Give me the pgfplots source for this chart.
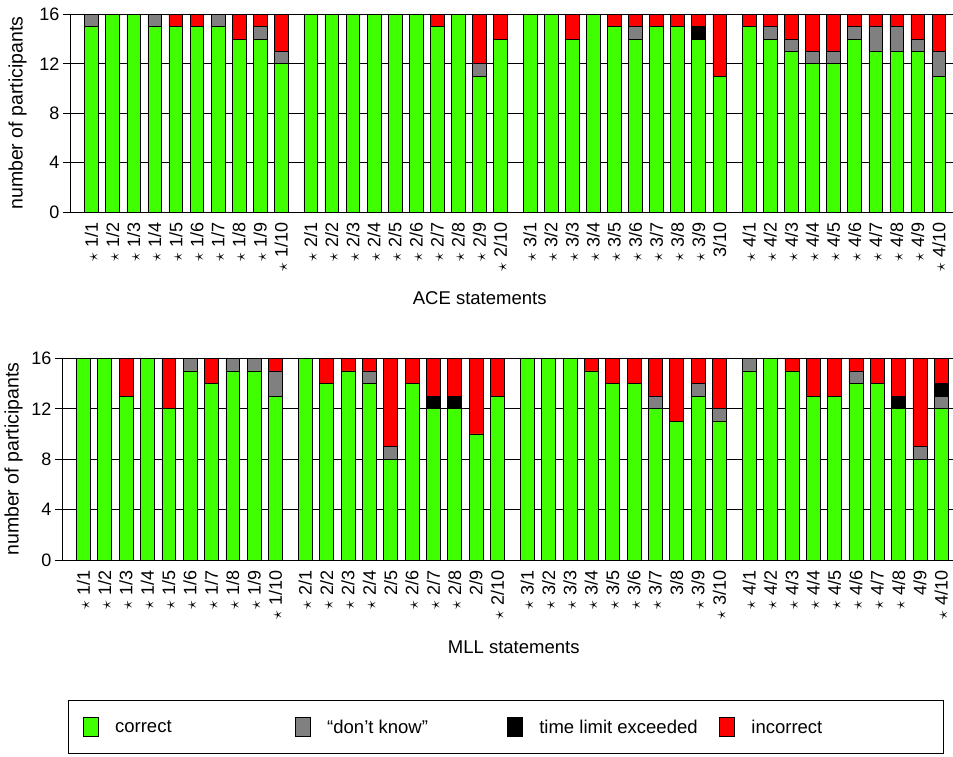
\documentclass[border=0pt]{standalone}
\usepackage{fontspec}
\setmainfont{Liberation Sans}
\usepackage{pgfplots}
\usepackage{pgfplotstable}
\pgfplotsset{compat=1.18}

\definecolor{cgreen}{RGB}{64,255,0}
\definecolor{cgray}{RGB}{128,128,128}
\definecolor{cred}{RGB}{255,0,0}
\newcommand\fs{\fontsize{18}{21}\selectfont}
\newcommand\fl{\fontsize{18.5}{22}\selectfont}
\newcommand\fy{\fontsize{19.5}{23}\selectfont}

\pgfplotstableread{
x c d t i
0 15 1 0 0
1 16 0 0 0
2 16 0 0 0
3 15 1 0 0
4 15 0 0 1
5 15 0 0 1
6 15 1 0 0
7 14 0 0 2
8 14 1 0 1
9 12 1 0 3
10.4 16 0 0 0
11.4 16 0 0 0
12.4 16 0 0 0
13.4 16 0 0 0
14.4 16 0 0 0
15.4 16 0 0 0
16.4 15 0 0 1
17.4 16 0 0 0
18.4 11 1 0 4
19.4 14 0 0 2
20.8 16 0 0 0
21.8 16 0 0 0
22.8 14 0 0 2
23.8 16 0 0 0
24.8 15 0 0 1
25.8 14 1 0 1
26.8 15 0 0 1
27.8 15 0 0 1
28.8 14 0 1 1
29.8 11 0 0 5
31.2 15 0 0 1
32.2 14 1 0 1
33.2 13 1 0 2
34.2 12 1 0 3
35.2 12 1 0 3
36.2 14 1 0 1
37.2 13 2 0 1
38.2 13 2 0 1
39.2 13 1 0 2
40.2 11 2 0 3
}\ace

\pgfplotstableread{
x c d t i
0 16 0 0 0
1 16 0 0 0
2 13 0 0 3
3 16 0 0 0
4 12 0 0 4
5 15 1 0 0
6 14 0 0 2
7 15 1 0 0
8 15 1 0 0
9 13 2 0 1
10.4 16 0 0 0
11.4 14 0 0 2
12.4 15 0 0 1
13.4 14 1 0 1
14.4 8 1 0 7
15.4 14 0 0 2
16.4 12 0 1 3
17.4 12 0 1 3
18.4 10 0 0 6
19.4 13 0 0 3
20.8 16 0 0 0
21.8 16 0 0 0
22.8 16 0 0 0
23.8 15 0 0 1
24.8 14 0 0 2
25.8 14 0 0 2
26.8 12 1 0 3
27.8 11 0 0 5
28.8 13 1 0 2
29.8 11 1 0 4
31.2 15 1 0 0
32.2 16 0 0 0
33.2 15 0 0 1
34.2 13 0 0 3
35.2 13 0 0 3
36.2 14 1 0 1
37.2 14 0 0 2
38.2 12 0 1 3
39.2 8 1 0 7
40.2 12 1 1 2
}\mll

\pgfplotsset{
  mystyle/.style={
    scale only axis,
    ybar stacked,
    bar width=0.65,
    ymin=0, ymax=16,
    ytick={0,8,16},
    extra y ticks={4,12},
    extra y tick style={grid style={gray!75, line width=0.8pt}},
    ymajorgrids,
    major grid style={black, line width=0.6pt},
    axis x line*=bottom,
    axis y line*=left,
    axis line style={line width=0.8pt},
    tick align=outside,
    major tick length=7pt,
    ytick style={line width=0.8pt, black},
    xtick={0,1,2,3,4,5,6,7,8,9,10.4,11.4,12.4,13.4,14.4,15.4,16.4,17.4,18.4,19.4,20.8,21.8,22.8,23.8,24.8,25.8,26.8,27.8,28.8,29.8,31.2,32.2,33.2,34.2,35.2,36.2,37.2,38.2,39.2,40.2},
    xtick style={draw=none},
    x tick label style={rotate=90, anchor=east},
    tick label style={font=\fs},
    xlabel style={font=\fl},
    ylabel style={font=\fy},
    /pgf/number format/assume math mode=true,
    ylabel={number of participants},
    every axis plot/.append style={draw=black, line width=0.5pt},
  }
}

\begin{document}
\begin{tikzpicture}
\useasboundingbox (0,0) rectangle (953pt,-756pt);
\begin{axis}[mystyle,
  at={(70pt,-212pt)}, anchor=south west,
  width=883pt, height=197.7pt,
  xmin=-1.02, xmax=40.87,
  ylabel shift=-8pt,
  xticklabels={$\star$ 1/1,$\star$ 1/2,$\star$ 1/3,$\star$ 1/4,$\star$ 1/5,$\star$ 1/6,$\star$ 1/7,$\star$ 1/8,$\star$ 1/9,$\star$ 1/10,
               $\star$ 2/1,$\star$ 2/2,$\star$ 2/3,$\star$ 2/4,$\star$ 2/5,$\star$ 2/6,$\star$ 2/7,$\star$ 2/8,$\star$ 2/9,$\star$ 2/10,
               $\star$ 3/1,$\star$ 3/2,$\star$ 3/3,$\star$ 3/4,$\star$ 3/5,$\star$ 3/6,$\star$ 3/7,$\star$ 3/8,$\star$ 3/9,3/10,
               $\star$ 4/1,$\star$ 4/2,$\star$ 4/3,$\star$ 4/4,$\star$ 4/5,$\star$ 4/6,$\star$ 4/7,$\star$ 4/8,$\star$ 4/9,$\star$ 4/10},
  xlabel={ACE statements},
  xlabel style={at={(axis description cs:0.464,-0.385)}, anchor=north},
]
\addplot[fill=cgreen] table[x=x,y=c]{\ace};
\addplot[fill=cgray] table[x=x,y=d]{\ace};
\addplot[fill=black] table[x=x,y=t]{\ace};
\addplot[fill=cred] table[x=x,y=i]{\ace};
\end{axis}
\begin{axis}[mystyle,
  at={(62pt,-560pt)}, anchor=south west,
  width=891pt, height=201.7pt,
  xmin=-1.0, xmax=40.75,
  ylabel shift=-12pt,
  xticklabels={$\star$ 1/1,$\star$ 1/2,$\star$ 1/3,$\star$ 1/4,$\star$ 1/5,$\star$ 1/6,$\star$ 1/7,$\star$ 1/8,$\star$ 1/9,$\star$ 1/10,
               $\star$ 2/1,$\star$ 2/2,$\star$ 2/3,$\star$ 2/4,2/5,$\star$ 2/6,$\star$ 2/7,$\star$ 2/8,2/9,$\star$ 2/10,
               $\star$ 3/1,$\star$ 3/2,$\star$ 3/3,$\star$ 3/4,$\star$ 3/5,$\star$ 3/6,$\star$ 3/7,3/8,$\star$ 3/9,$\star$ 3/10,
               $\star$ 4/1,$\star$ 4/2,$\star$ 4/3,$\star$ 4/4,$\star$ 4/5,$\star$ 4/6,$\star$ 4/7,$\star$ 4/8,4/9,$\star$ 4/10},
  xlabel={MLL statements},
  xlabel style={at={(axis description cs:0.507,-0.383)}, anchor=north},
  legend columns=4,
  legend image code/.code={\draw[#1, draw=black, line width=0.5pt] (0pt,-9.5pt) rectangle (15pt,9.5pt);},
  legend style={draw=black, line width=0.8pt, font=\fl,
    at={(axis description cs:0.007,-0.694)}, anchor=north west,
    inner xsep=14pt, inner ysep=17pt,
    /tikz/every odd column/.append style={column sep=15pt},
    /tikz/every even column/.append style={column sep=4.6pt}},
]
\addplot[fill=cgreen] table[x=x,y=c]{\mll};
\addlegendentry{\makebox[173pt][l]{correct}}
\addplot[fill=cgray] table[x=x,y=d]{\mll};
\addlegendentry{\makebox[173pt][l]{``don't know''}}
\addplot[fill=black] table[x=x,y=t]{\mll};
\addlegendentry{\makebox[173pt][l]{time limit exceeded}}
\addplot[fill=cred] table[x=x,y=i]{\mll};
\addlegendentry{\makebox[176pt][l]{incorrect}}
\end{axis}
\end{tikzpicture}
\end{document}
